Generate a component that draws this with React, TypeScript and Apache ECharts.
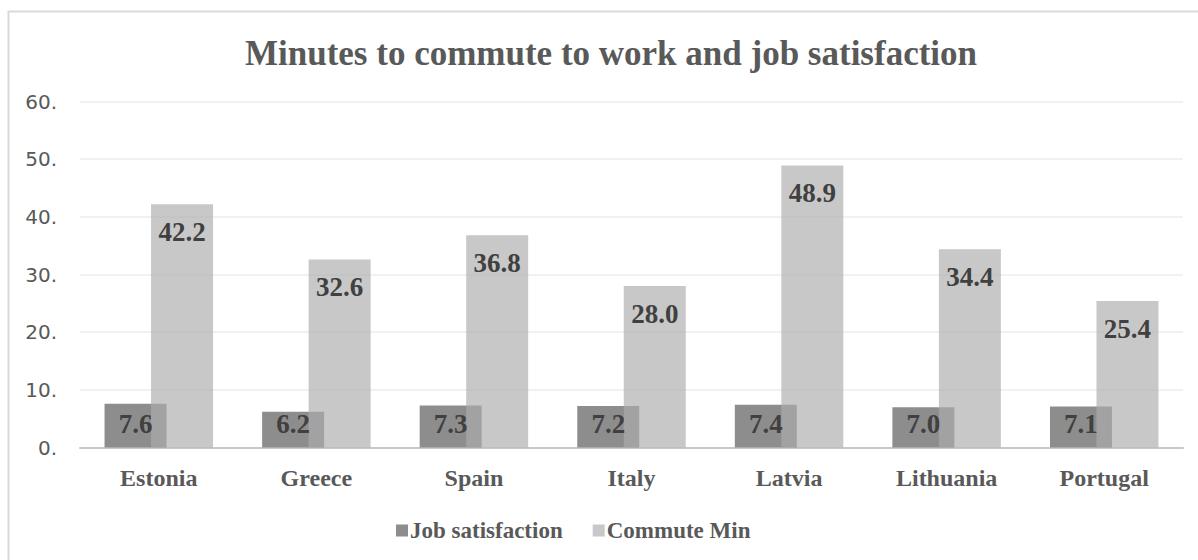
import React, { useEffect, useRef } from "react";
import * as echarts from "echarts";

const categories = ["Estonia", "Greece", "Spain", "Italy", "Latvia", "Lithuania", "Portugal"];
const jobSatisfaction = [7.6, 6.2, 7.3, 7.2, 7.4, 7.0, 7.1];
const commuteMin = [42.2, 32.6, 36.8, 28.0, 48.9, 34.4, 25.4];
const yTicks = [0, 10, 20, 30, 40, 50, 60];

const SERIF = "'Liberation Serif', 'Times New Roman', serif";
const SANS = "'DejaVu Sans', Verdana, sans-serif";

export default function App() {
  const ref = useRef<HTMLDivElement>(null);
  useEffect(() => {
    if (!ref.current) return;
    const chart = echarts.init(ref.current, null, { renderer: "svg" });
    chart.setOption({
      animation: false,
      backgroundColor: "#ffffff",
      title: {
        text: "Minutes to commute to work and job satisfaction",
        left: 606,
        top: 31,
        textAlign: "center",
        textStyle: { fontFamily: SERIF, fontWeight: "bold", fontSize: 35, color: "#595959" },
      },
      graphic: [
        {
          type: "rect",
          shape: { x: 8.5, y: 11.5, width: 1200, height: 600 },
          style: { fill: "none", stroke: "#d9d9d9", lineWidth: 2 },
          silent: true,
        },
      ],
      legend: {
        left: 391,
        top: 514,
        itemWidth: 12,
        itemHeight: 12,
        itemGap: 30,
        icon: "rect",
        textStyle: { fontFamily: SERIF, fontWeight: "bold", fontSize: 23, color: "#595959", padding: [0, 0, 0, -3] },
        data: [
          { name: "Job satisfaction", itemStyle: { color: "#8d8d8d", opacity: 1 } },
          { name: "Commute Min", itemStyle: { color: "#c8c8c8", opacity: 1 } },
        ],
      },
      grid: { left: 80, right: 15, top: 101.5, bottom: 112.5, containLabel: false },
      xAxis: {
        type: "category",
        data: categories,
        axisTick: { show: false },
        axisLine: { lineStyle: { color: "#c8c8c8", width: 2 } },
        axisLabel: { fontFamily: SERIF, fontWeight: "bold", fontSize: 24, color: "#595959", margin: 18 },
      },
      yAxis: {
        type: "value",
        min: yTicks[0],
        max: yTicks[yTicks.length - 1],
        interval: 10,
        axisLine: { show: false },
        axisTick: { show: false },
        splitLine: { lineStyle: { color: "#ededed", width: 1.5 } },
        axisLabel: {
          fontFamily: SANS,
          fontSize: 20,
          color: "#595959",
          margin: 23,
          formatter: (v: number) => v + ".",
        },
      },
      series: [
        {
          name: "Job satisfaction",
          type: "bar",
          data: jobSatisfaction,
          barWidth: 62,
          barGap: "-25%",
          itemStyle: { color: "#8d8d8d" },
          label: {
            show: true,
            position: "insideBottom",
            distance: 10,
            formatter: (p: any) => p.value.toFixed(1),
            fontFamily: SERIF,
            fontWeight: "bold",
            fontSize: 27,
            color: "#404040",
          },
        },
        {
          name: "Commute Min",
          type: "bar",
          data: commuteMin,
          barWidth: 62,
          itemStyle: { color: "rgba(173,173,173,0.67)" },
          label: {
            show: true,
            position: "insideTop",
            distance: 14,
            formatter: (p: any) => p.value.toFixed(1),
            fontFamily: SERIF,
            fontWeight: "bold",
            fontSize: 27,
            color: "#404040",
          },
        },
      ],
    });
    return () => chart.dispose();
  }, []);
  return (
    <div
      ref={ref}
      style={{ position: "fixed", left: 0, top: 0, width: 1198, height: 560 }}
    />
  );
}
